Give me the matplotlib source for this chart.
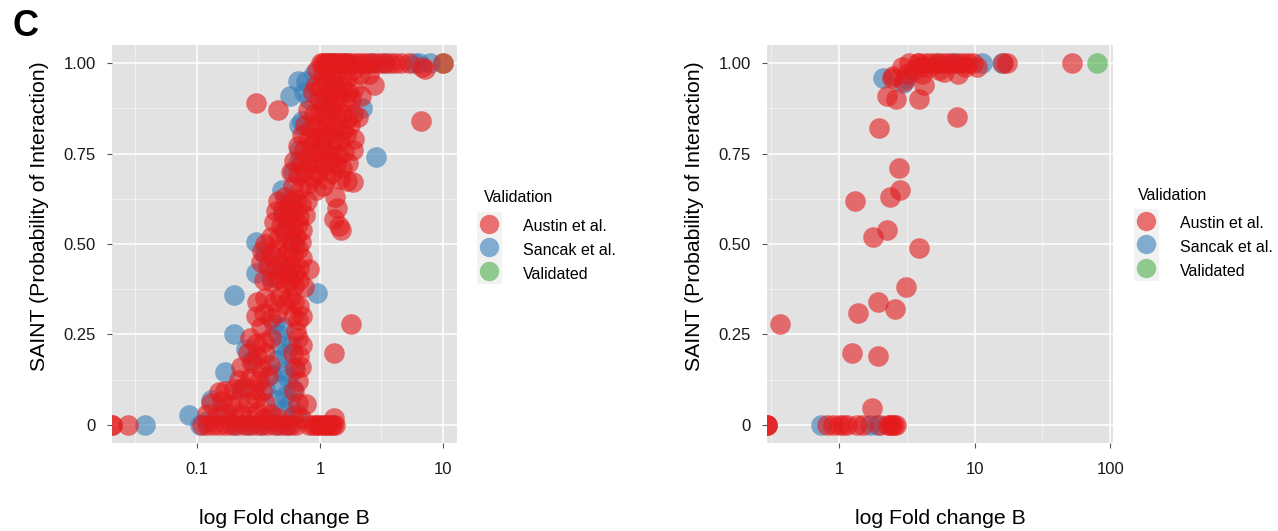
import numpy as np
import matplotlib
matplotlib.use("Agg")
import matplotlib.pyplot as plt
from matplotlib.lines import Line2D
from matplotlib.legend_handler import HandlerTuple

plt.rcParams['font.family'] = ['Liberation Sans', 'DejaVu Sans']

# (fold change B, SAINT score); fold change 0 is log(-Inf) and sits on the panel edge
austin_left = [
    (0, 0), (0, 0), (0.0275, 0),
    (0.11, 0), (0.12, 0), (0.135, 0), (0.15, 0), (0.17, 0), (0.19, 0), (0.21, 0), (0.24, 0),
    (0.27, 0), (0.3, 0), (0.34, 0), (0.38, 0), (0.43, 0), (0.48, 0), (0.53, 0), (0.58, 0),
    (0.64, 0), (0.82, 0), (0.87, 0), (0.92, 0), (0.97, 0), (1.02, 0), (1.07, 0), (1.12, 0),
    (1.17, 0), (1.22, 0), (1.28, 0), (1.33, 0),
    (0.15, 0.09), (0.17, 0.095), (0.2, 0.1), (0.24, 0.105), (0.29, 0.1), (0.34, 0.095),
    (0.62, 0.095), (0.13, 0.06), (0.16, 0.065), (0.19, 0.055),
    (0.22, 0.07), (0.26, 0.06), (0.3, 0.075), (0.36, 0.06),
    (0.66, 0.06), (0.77, 0.058), (0.12, 0.03), (0.145, 0.025), (0.17, 0.035),
    (0.2, 0.02), (0.23, 0.03), (0.27, 0.025), (0.31, 0.035), (0.35, 0.02), (0.4, 0.03),
    (0.45, 0.02), (0.6, 0.025), (0.7, 0.02), (1.3, 0.02),
    (0.27, 0.24), (0.3, 0.225), (0.35, 0.23), (0.4, 0.24),
    (0.66, 0.24), (0.72, 0.22), (0.26, 0.2), (0.31, 0.19), (0.36, 0.2),
    (0.6, 0.2), (0.68, 0.19), (0.23, 0.16), (0.28, 0.17), (0.33, 0.155),
    (0.39, 0.165), (0.63, 0.155), (0.7, 0.16), (0.22, 0.125),
    (0.27, 0.13), (0.32, 0.12), (0.38, 0.135), (0.66, 0.12),
    (1.3, 0.2),
    (0.31, 0.34), (0.36, 0.35), (0.42, 0.34), (0.47, 0.355), (0.52, 0.335), (0.57, 0.35),
    (0.62, 0.34), (0.68, 0.33), (0.3, 0.3), (0.35, 0.31), (0.4, 0.295), (0.45, 0.31),
    (0.6, 0.3), (0.66, 0.29), (0.72, 0.3), (0.33, 0.27), (0.64, 0.26), (1.78, 0.28),
    (0.34, 0.48), (0.4, 0.47), (0.45, 0.485), (0.5, 0.465), (0.55, 0.48), (0.6, 0.47),
    (0.66, 0.485), (0.72, 0.46), (0.82, 0.43), (0.33, 0.45), (0.38, 0.44), (0.43, 0.43),
    (0.48, 0.445), (0.53, 0.425), (0.58, 0.44), (0.63, 0.42), (0.68, 0.435), (0.35, 0.4),
    (0.41, 0.395), (0.46, 0.405), (0.52, 0.39), (0.57, 0.4), (0.62, 0.385), (0.67, 0.4),
    (0.74, 0.38),
    (0.46, 0.62), (0.52, 0.63), (0.58, 0.615), (0.64, 0.625), (0.7, 0.61), (0.78, 0.62),
    (1.32, 0.63), (1.38, 0.6), (0.44, 0.59), (0.5, 0.595), (0.56, 0.58), (0.62, 0.59),
    (0.68, 0.575), (0.75, 0.58), (1.3, 0.57), (1.42, 0.55), (0.42, 0.56), (0.48, 0.55),
    (0.54, 0.565), (0.6, 0.545), (0.66, 0.555), (0.72, 0.54), (0.4, 0.52), (0.46, 0.515),
    (0.52, 0.53), (0.58, 0.51), (0.64, 0.52), (0.7, 0.505), (1.48, 0.54), (0.36, 0.5),
    (0.66, 0.77), (0.74, 0.76), (0.84, 0.77), (0.94, 0.755), (1.04, 0.765), (1.15, 0.75),
    (1.28, 0.76), (1.4, 0.745), (1.58, 0.755), (1.85, 0.76), (0.62, 0.73), (0.7, 0.72),
    (0.78, 0.735), (0.88, 0.72), (0.98, 0.73), (1.08, 0.715), (1.2, 0.73), (1.35, 0.72),
    (1.5, 0.71), (1.7, 0.725), (0.58, 0.7), (0.66, 0.69), (0.75, 0.7), (0.86, 0.685),
    (0.96, 0.695), (1.12, 0.68), (1.25, 0.695), (1.45, 0.68), (1.65, 0.675), (1.85, 0.67),
    (0.6, 0.66), (0.7, 0.655), (0.8, 0.665), (0.92, 0.65), (1.05, 0.66),
    (0.8, 0.87), (0.9, 0.86), (1.0, 0.865), (1.12, 0.85), (1.22, 0.87), (1.35, 0.855),
    (1.5, 0.86), (1.65, 0.845), (1.85, 0.86), (2.05, 0.85), (0.76, 0.83), (0.85, 0.82),
    (0.95, 0.83), (1.05, 0.815), (1.15, 0.83), (1.25, 0.81), (1.38, 0.825), (1.55, 0.815),
    (1.75, 0.83), (0.72, 0.8), (0.82, 0.79), (0.92, 0.795), (1.02, 0.78), (1.1, 0.8),
    (1.3, 0.79), (1.45, 0.785), (1.62, 0.8), (1.9, 0.79),
    (0.95, 0.98), (1.05, 0.97), (1.15, 0.985), (1.25, 0.96), (1.35, 0.975), (1.5, 0.97),
    (1.65, 0.96), (1.85, 0.98), (2.1, 0.97), (2.5, 0.97), (2.75, 0.94), (0.92, 0.94),
    (1.0, 0.93), (1.1, 0.95), (1.2, 0.92), (1.3, 0.94), (1.42, 0.92), (1.55, 0.935),
    (1.7, 0.92), (1.9, 0.93), (2.15, 0.91), (0.98, 0.9), (1.08, 0.89), (1.18, 0.905),
    (1.28, 0.885), (1.4, 0.9), (1.6, 0.895), (1.8, 0.9), (0.88, 0.92),
    (1.02, 1), (1.06, 1), (1.1, 1), (1.14, 1), (1.18, 1), (1.22, 1), (1.27, 1), (1.32, 1),
    (1.38, 1), (1.45, 1), (1.52, 1), (1.6, 1), (1.7, 1), (1.8, 1), (1.95, 1), (2.1, 1),
    (2.3, 1), (2.5, 1), (2.75, 1), (3.0, 1), (3.3, 1), (3.7, 1), (4.1, 1), (4.6, 1),
    (5.3, 1), (10.0, 1), (6.8, 0.99), (7.2, 0.985),
    (0.3, 0.89), (0.46, 0.87), (6.6, 0.84),
]

sancak_left = [
    (0.038, 0), (0.086, 0.028), (0.105, 0), (0.12, 0.01), (0.13, 0.07), (0.16, 0.04),
    (0.17, 0.146), (0.2, 0.25), (0.25, 0.21), (0.2, 0.36), (0.23, 0.1), (0.28, 0.18),
    (0.3, 0.42), (0.3, 0.505), (0.95, 0.365), (2.85, 0.74), (2.2, 0.875), (0.77, 0.95),
    (0.74, 0.92), (0.49, 0.65), (0.51, 0.54),
    (0.42, 0.28), (0.46, 0.25), (0.5, 0.27), (0.48, 0.22), (0.53, 0.2), (0.45, 0.18),
    (0.5, 0.15), (0.55, 0.13), (0.47, 0.11), (0.52, 0.08), (0.57, 0.06), (0.44, 0.07),
    (0.5, 0.04), (0.6, 0.1), (0.62, 0.16), (0.58, 0.22), (0.4, 0.14), (0.36, 0.1),
    (0.55, 0), (0.45, 0), (0.65, 0.03), (0.38, 0.02), (0.2, 0), (0.26, 0), (0.33, 0),
    (0.4, 0.41), (0.45, 0.44), (0.55, 0.42), (0.36, 0.47), (0.62, 0.5), (0.5, 0.58),
    (0.56, 0.62), (0.6, 0.7), (0.68, 0.76), (0.72, 0.84), (0.82, 0.9), (0.9, 0.97),
    (1.2, 1), (1.6, 1), (2.6, 1), (3.4, 1), (5.8, 1), (6.4, 1), (7.8, 1), (1.35, 0.93),
    (1.1, 0.88), (0.67, 0.73), (0.57, 0.91), (0.68, 0.83), (0.66, 0.95),
]

validated_left = [(10.0, 1)]

austin_right = [
    (0, 0), (0, 0), (0, 0), (0.82, 0), (0.9, 0), (1.0, 0), (1.08, 0), (1.15, 0), (1.36, 0),
    (1.5, 0), (2.0, 0), (2.3, 0), (2.4, 0), (2.48, 0), (2.55, 0), (2.62, 0),
    (1.75, 0.047), (1.25, 0.2), (1.94, 0.19), (0.37, 0.28), (1.38, 0.31), (1.94, 0.34),
    (2.6, 0.32), (3.1, 0.38), (3.9, 0.49), (1.78, 0.52), (2.26, 0.54), (1.31, 0.62),
    (2.38, 0.63), (2.8, 0.65), (2.77, 0.71), (1.97, 0.82), (7.4, 0.85), (2.26, 0.91),
    (2.63, 0.9), (3.9, 0.9), (4.25, 0.94), (2.45, 0.96), (2.5, 0.965), (2.9, 0.99),
    (3.0, 0.95), (3.2, 0.97), (3.6, 0.98), (4.1, 0.97), (4.6, 0.99), (5.5, 0.98),
    (6.0, 0.975), (7.5, 0.97), (8.5, 0.99), (10.5, 0.99), (3.3, 1), (3.85, 1), (3.9, 1),
    (4.0, 0.99), (4.4, 1), (4.8, 1), (5.3, 1), (5.8, 1), (6.3, 1), (6.8, 1), (7.5, 1),
    (8.2, 1), (9.0, 1), (9.8, 1), (16.3, 1), (17.5, 1), (52.0, 1),
]

sancak_right = [
    (0.74, 0), (1.7, 0), (1.9, 0), (2.1, 0.96), (2.97, 0.945), (3.1, 0.96), (7.0, 1),
    (11.4, 1), (16.0, 1),
]

validated_right = [(5.3, 1), (80.0, 1)]

groups = ["Austin et al.", "Sancak et al.", "Validated"]
colors = ["#E41A1C", "#377EB8", "#4DAF4A"]

W, H = 1278, 531
fig = plt.figure(figsize=(W / 100, H / 100), dpi=100)


def panel(rect, series, xlim, majors, major_labels, minors, title_xy, legend_at):
    ax = fig.add_axes(rect)
    ax.set_facecolor("#E2E2E2")
    for s in ax.spines.values():
        s.set_visible(False)
    ax.set_xscale("log")
    ax.set_xlim(xlim)
    ax.set_ylim(-0.05, 1.05)

    for m in minors:
        ax.axvline(m, color="white", lw=0.5, alpha=0.7, zorder=0)
    for m in [0.125, 0.375, 0.625, 0.875]:
        ax.axhline(m, color="white", lw=0.5, alpha=0.7, zorder=0)
    for m in majors:
        ax.axvline(m, color="white", lw=1.1, zorder=0)
    for m in [0, 0.25, 0.5, 0.75, 1]:
        ax.axhline(m, color="white", lw=1.1, zorder=0)

    ax.set_xticks(majors)
    ax.set_xticklabels(major_labels)
    ax.xaxis.set_minor_locator(matplotlib.ticker.NullLocator())
    ax.set_yticks([0, 0.25, 0.5, 0.75, 1])
    ax.set_yticklabels(["0", "0.25", "0.50", "0.75", "1.00"])
    ax.tick_params(axis="both", direction="out", length=3.5, width=0.8,
                   color="#555555", labelsize=12, labelcolor="#1a1a1a")
    ax.tick_params(axis="y", pad=8)
    ax.tick_params(axis="x", pad=10)

    # draw order: validated, then Sancak, then Austin on top
    for pts, col in zip(reversed(series), reversed(colors)):
        fc = np.array([p[0] for p in pts], dtype=float)
        sc = np.array([p[1] for p in pts], dtype=float)
        fc = np.where(fc > 0, fc, xlim[0])
        ax.scatter(fc, sc, s=220, color=col, alpha=0.6, linewidths=0, zorder=2)

    ax.set_xlabel("log Fold change B", fontsize=15.3, labelpad=23)
    ax.set_ylabel("SAINT (Probability of Interaction)", fontsize=15.3)
    ax.yaxis.set_label_coords(-0.183, 0.57)

    fig.text(title_xy[0] / W, 1 - title_xy[1] / H, "Validation", fontsize=11.5,
             ha="left", va="center")
    handles = []
    for col in colors:
        box = Line2D([], [], marker="s", markersize=18, markerfacecolor="#F2F2F2",
                     markeredgewidth=0, linestyle="")
        dot = Line2D([], [], marker="o", markersize=14, markerfacecolor=col, alpha=0.6,
                     markeredgewidth=0, linestyle="")
        handles.append((box, dot))
    ax.legend(handles, groups, loc="upper left",
              bbox_to_anchor=(legend_at[0] / W, 1 - legend_at[1] / H),
              bbox_transform=fig.transFigure,
              frameon=False, handler_map={tuple: HandlerTuple(ndivide=1)},
              fontsize=11.5, handlelength=1.55, handleheight=1.5,
              handletextpad=1.3, labelspacing=0.28, borderpad=0, borderaxespad=0)
    return ax


bottom = 1 - 443 / H
height = 398 / H
panel([112 / W, bottom, 345 / W, height],
      [austin_left, sancak_left, validated_left],
      (0.0204, 13.0), [0.1, 1, 10], ["0.1", "1", "10"],
      [0.0316, 0.316, 3.16], (484, 197), (477, 216))
panel([767 / W, bottom, 346 / W, height],
      [austin_right, sancak_right, validated_right],
      (0.295, 105), [1, 10, 100], ["1", "10", "100"],
      [0.316, 3.16, 31.6], (1138, 195), (1134, 213))

fig.text(12 / W, 1 - 26 / H, "C", fontsize=26, fontweight="bold", va="center", ha="left")

fig.savefig("out.png", dpi=100)
